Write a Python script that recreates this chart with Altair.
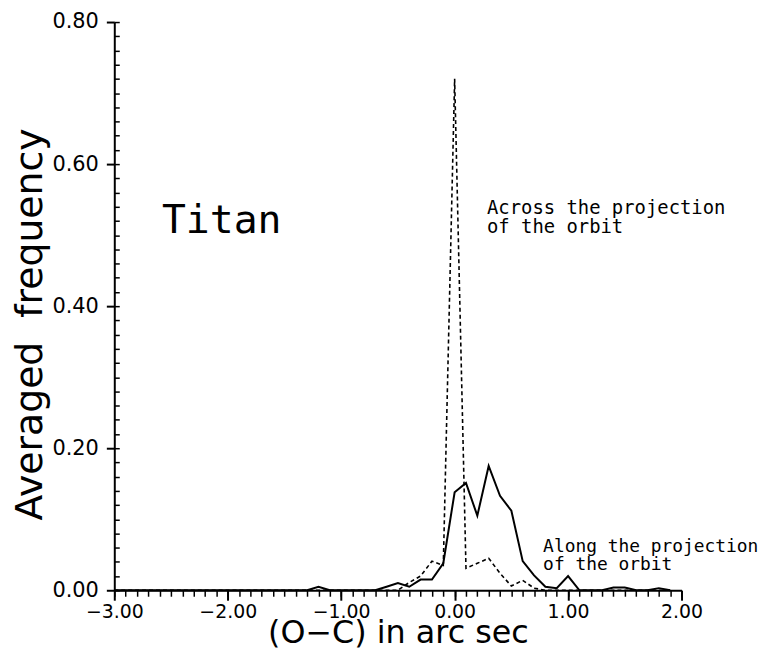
import altair as alt
import pandas as pd

# Along the projection of the orbit (solid line)
along_x = [-3.0, -1.3, -1.2, -1.1, -0.7, -0.6, -0.5, -0.4, -0.3, -0.2, -0.1, 0.0, 0.1, 0.2, 0.3,
           0.4, 0.5, 0.6, 0.7, 0.8, 0.9, 1.0, 1.1, 1.3, 1.4, 1.5, 1.6, 1.7, 1.8, 1.9]
along_y = [0.0, 0.0, 0.005, 0.0, 0.0, 0.005, 0.010, 0.005, 0.015, 0.015, 0.038, 0.138, 0.151, 0.105, 0.175,
           0.133, 0.112, 0.041, 0.021, 0.005, 0.003, 0.020, 0.0, 0.0, 0.004, 0.004, 0.0, 0.0, 0.003, 0.0]

# Across the projection of the orbit (dashed line)
across_x = [-3.0, -0.5, -0.4, -0.3, -0.2, -0.1, 0.0, 0.1, 0.2, 0.3, 0.4, 0.5, 0.6, 0.7, 0.8, 1.9]
across_y = [0.0, 0.0, 0.011, 0.020, 0.041, 0.035, 0.720, 0.031, 0.038, 0.045, 0.024, 0.006, 0.014, 0.003, 0.0, 0.0]

x_major = [-3, -2, -1, 0, 1, 2]
x_minor = [round(-3 + 0.1 * i, 1) for i in range(51)]
y_major = [0.0, 0.2, 0.4, 0.6, 0.8]
y_minor = [round(0.02 * i, 2) for i in range(41)]

label_texts = ["Titan", "Across the projection\nof the orbit", "Along the projection\nof the orbit"]
label_x = [-2.58, 0.285, 0.78]
label_y = [0.52, 0.538, 0.0615]

FONT = "DejaVu Sans"
MONO = "DejaVu Sans Mono"

along = pd.DataFrame({"x": along_x, "y": along_y})
across = pd.DataFrame({"x": across_x, "y": across_y})

xs = alt.Scale(domain=[-3, 2], nice=False, zero=False)
ys = alt.Scale(domain=[0, 0.8], nice=False)

x_axis_major = alt.Axis(
    orient="bottom", values=x_major, format=".2f", tickSize=10, tickWidth=2,
    domainWidth=2, domainColor="black", tickColor="black", grid=False,
    labelFont=FONT, labelFontSize=19, labelColor="black", labelPadding=2,
    labelFlush=False, labelOverlap=False,
    title="(O−C) in arc sec", titleFont=FONT, titleFontSize=32,
    titleFontWeight="normal", titleColor="black", titlePadding=-3)
y_axis_major = alt.Axis(
    orient="left", values=y_major, format=".2f", tickSize=8, tickWidth=2,
    domainWidth=2, domainColor="black", tickColor="black", grid=False,
    labelFont=FONT, labelFontSize=21, labelColor="black", labelPadding=8,
    labelFlush=False, labelOverlap=False,
    title="Averaged\u00a0 frequency", titleFont=FONT, titleFontSize=38,
    titleFontWeight="normal", titleColor="black", titlePadding=3, titleY=304)

solid = alt.Chart(along).mark_line(color="black", strokeWidth=2).encode(
    x=alt.X("x:Q", scale=xs, axis=x_axis_major),
    y=alt.Y("y:Q", scale=ys, axis=y_axis_major),
)

dashed = alt.Chart(across).mark_line(color="black", strokeWidth=1.6, strokeDash=[4, 3]).encode(
    x=alt.X("x:Q", scale=xs, axis=None),
    y=alt.Y("y:Q", scale=ys, axis=None),
)

minor = alt.Chart(along).mark_point(opacity=0).encode(
    x=alt.X("x:Q", scale=xs, axis=alt.Axis(
        orient="bottom", values=x_minor, labels=False, tickSize=6, tickWidth=1.5,
        tickColor="black", domain=False, grid=False, title=None)),
    y=alt.Y("y:Q", scale=ys, axis=alt.Axis(
        orient="left", values=y_minor, labels=False, tickSize=5, tickWidth=1.5,
        tickColor="black", domain=False, grid=False, title=None, offset=-5)),
)

labels_df = pd.DataFrame({"x": label_x, "y": label_y, "t": label_texts})
sizes = [40, 19, 18]
text_layers = []
for i in range(3):
    text_layers.append(
        alt.Chart(labels_df.iloc[[i]]).mark_text(
            align="left", baseline="middle", font=MONO, fontSize=sizes[i],
            lineHeight=19, lineBreak="\n", color="black").encode(
            x=alt.X("x:Q", scale=xs, axis=None),
            y=alt.Y("y:Q", scale=ys, axis=None),
            text="t:N",
        )
    )

chart = alt.layer(solid, dashed, minor, *text_layers).resolve_axis(
    x="independent", y="independent"
).properties(
    width=571, height=572,
    autosize=alt.AutoSizeParams(type="none"),
    padding={"left": 107, "top": 12, "right": 80, "bottom": 59},
    background="white",
).configure_view(stroke=None)

chart.save("out.html", embed_options={"renderer": "svg", "actions": False})
